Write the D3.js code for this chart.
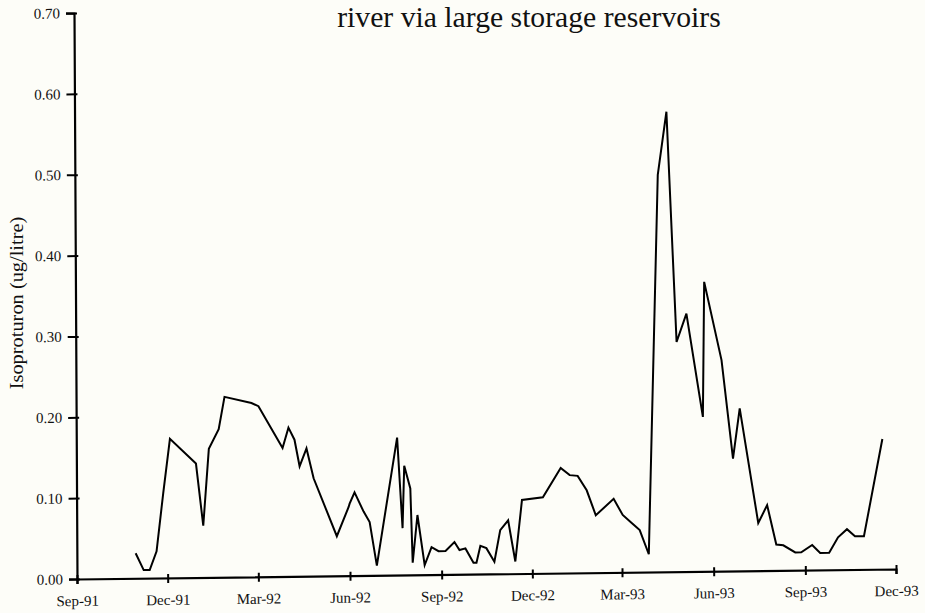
<!DOCTYPE html>
<html>
<head>
<meta charset="utf-8">
<script src="https://cdn.jsdelivr.net/npm/d3@7"></script>
<style>
  html, body { margin: 0; padding: 0; background: #fdfdf8; }
  svg { display: block; font-family: "Liberation Serif", "Times New Roman", serif; }
</style>
</head>
<body>
<svg id="chart" width="925" height="613"></svg>
<script>
// Sampling dates and isoproturon concentrations (ug/litre)
const sampleDates = [
  "1991-10-30","1991-11-07","1991-11-13","1991-11-20","1991-11-27","1991-12-04","1991-12-30",
  "1992-01-06","1992-01-12","1992-01-22","1992-01-28","1992-02-24","1992-03-02","1992-03-26",
  "1992-04-01","1992-04-07","1992-04-12","1992-04-19","1992-04-26","1992-05-19","1992-05-31",
  "1992-06-01","1992-06-06","1992-06-15","1992-06-21","1992-06-28","1992-07-19","1992-07-24",
  "1992-07-26","1992-08-01","1992-08-03","1992-08-08","1992-08-15","1992-08-22","1992-08-29",
  "1992-09-05","1992-09-14","1992-09-19","1992-09-25","1992-10-03","1992-10-06","1992-10-10",
  "1992-10-16","1992-10-24","1992-10-30","1992-11-07","1992-11-14","1992-11-21","1992-12-12",
  "1992-12-30","1993-01-08","1993-01-16","1993-01-25","1993-02-03","1993-02-21","1993-03-02",
  "1993-03-11","1993-03-19","1993-03-28","1993-04-08","1993-04-17","1993-04-26","1993-05-06",
  "1993-05-22","1993-05-24","1993-06-10","1993-06-21","1993-06-28","1993-07-16","1993-07-25",
  "1993-08-03","1993-08-10","1993-08-22","1993-08-28","1993-09-08","1993-09-16","1993-09-25",
  "1993-10-04","1993-10-13","1993-10-21","1993-10-30","1993-11-18"
];
const isoproturon = [
  0.031, 0.010, 0.010, 0.033, 0.105, 0.172, 0.141,
  0.064, 0.159, 0.183, 0.223, 0.215, 0.211, 0.159,
  0.184, 0.169, 0.136, 0.158, 0.121, 0.049, 0.085,
  0.089, 0.103, 0.079, 0.066, 0.012, 0.170, 0.058,
  0.135, 0.107, 0.015, 0.074, 0.012, 0.034, 0.029,
  0.029, 0.040, 0.030, 0.032, 0.014, 0.014, 0.035,
  0.032, 0.015, 0.054, 0.066, 0.015, 0.091, 0.094,
  0.130, 0.121, 0.120, 0.102, 0.071, 0.091, 0.071,
  0.061, 0.052, 0.022, 0.491, 0.569, 0.284, 0.319,
  0.191, 0.358, 0.261, 0.139, 0.201, 0.059, 0.081,
  0.032, 0.031, 0.022, 0.022, 0.031, 0.021, 0.021,
  0.040, 0.050, 0.041, 0.041, 0.161
];
const yTickValues = [0, 0.1, 0.2, 0.3, 0.4, 0.5, 0.6, 0.7];
const xTickDates = ["1991-09-01","1991-12-01","1992-03-01","1992-06-01","1992-09-01",
                    "1992-12-01","1993-03-01","1993-06-01","1993-09-01","1993-12-01"];
const xTickLabels = ["Sep-91","Dec-91","Mar-92","Jun-92","Sep-92",
                     "Dec-92","Mar-93","Jun-93","Sep-93","Dec-93"];
const titleText = "river via large storage reservoirs";
const yAxisTitle = "Isoproturon (ug/litre)";

const parse = d3.timeParse("%Y-%m-%d");
const data = sampleDates.map((d, i) => ({ date: parse(d), value: isoproturon[i] }));

const svg = d3.select("#chart");
const plotW = 819, plotH = 566;

const x = d3.scaleTime()
  .domain([parse(xTickDates[0]), parse(xTickDates[xTickDates.length - 1])])
  .range([0, plotW]);
const y = d3.scaleLinear().domain([0, 0.7]).range([0, -plotH]);

// Plot frame, anchored at the axis origin (slightly skewed page)
const g = svg.append("g")
  .attr("transform", "matrix(1,-0.0122,0.0053,1,77,579)");

// Y axis
const yAxis = g.append("g")
  .call(d3.axisLeft(y).tickValues(yTickValues).tickFormat(d3.format(".2f"))
        .tickSizeOuter(0).tickSize(8).tickPadding(6));
yAxis.select(".domain").attr("stroke", "#000").attr("stroke-width", 2.2);
yAxis.selectAll(".tick line").attr("x1", 3).attr("x2", -8).attr("stroke-width", 2);
yAxis.selectAll(".tick text")
  .attr("font-size", 15).attr("fill", "#111").attr("font-family", "Liberation Serif");

// X axis
const xAxis = g.append("g")
  .call(d3.axisBottom(x).tickValues(xTickDates.map(parse))
        .tickFormat((d, i) => xTickLabels[i]).tickSizeOuter(0).tickSize(5));
xAxis.select(".domain").attr("stroke", "#000").attr("stroke-width", 2.2);
xAxis.selectAll(".tick line").attr("y1", -4).attr("y2", 5).attr("stroke-width", 2);
xAxis.selectAll(".tick text")
  .attr("dy", null).attr("y", 27)
  .attr("font-size", 15).attr("fill", "#111").attr("font-family", "Liberation Serif");

// Concentration series
g.append("path")
  .datum(data)
  .attr("fill", "none")
  .attr("stroke", "#000")
  .attr("stroke-width", 2)
  .attr("stroke-linejoin", "miter")
  .attr("d", d3.line().x(d => x(d.date)).y(d => y(d.value)));

// Y axis title
svg.append("text")
  .attr("transform", "translate(23,303) rotate(-90) scale(1,0.9)")
  .attr("text-anchor", "middle")
  .attr("font-size", 20.4)
  .attr("fill", "#111")
  .text(yAxisTitle);

// Chart title (second line)
svg.append("text")
  .attr("x", 529).attr("y", 27)
  .attr("text-anchor", "middle")
  .attr("font-size", 29.7)
  .attr("fill", "#111")
  .text(titleText);
</script>
</body>
</html>
